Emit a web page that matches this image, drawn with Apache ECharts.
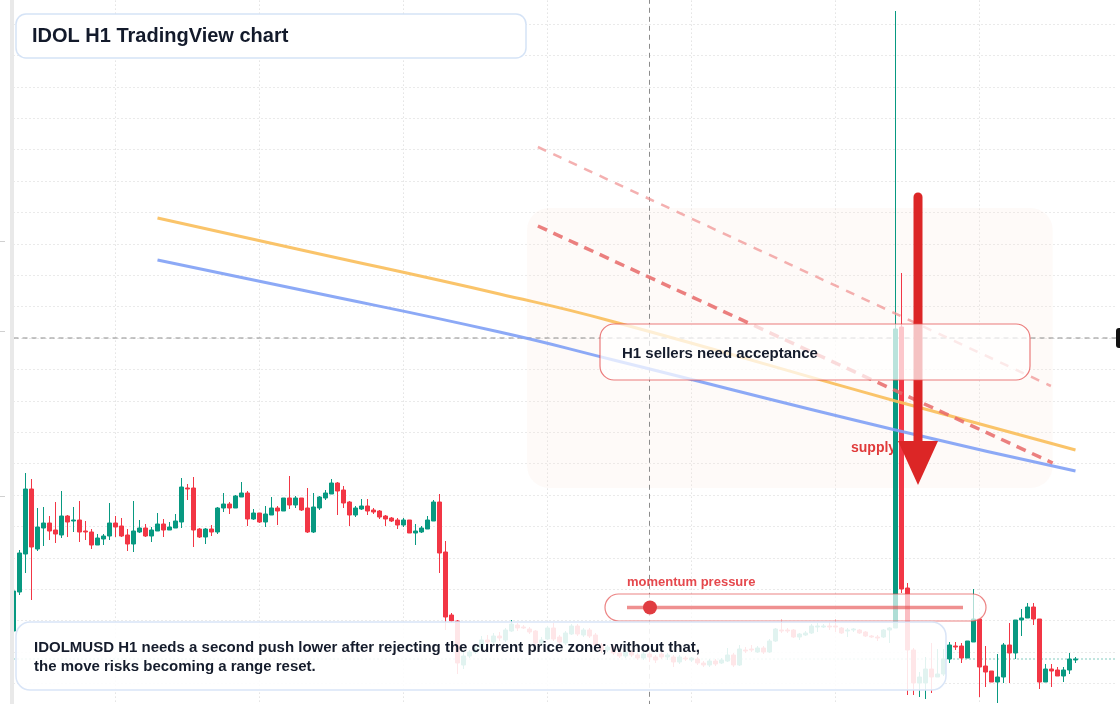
<!DOCTYPE html>
<html>
<head>
<meta charset="utf-8">
<script src="https://cdn.jsdelivr.net/npm/echarts@6/dist/echarts.min.js"></script>
<style>
  html, body { margin: 0; padding: 0; background: #ffffff; overflow: hidden; width: 1120px; height: 704px; }
  /* the plot runs a few pixels past the window edges, like the original screenshot */
  #chart { position: absolute; left: 0; top: -8px; width: 1120px; height: 723px; }
</style>
</head>
<body>
<div id="chart"></div>
<script>
// IDOLMUSD hourly candles
var opens = [0.03664,0.04054,0.04434,0.05084,0.04484,0.04694,0.04744,0.04674,0.04624,0.04814,0.04764,0.04774,0.04664,0.04654,0.04524,0.04584,0.04614,0.04744,0.04714,0.04624,
  0.04534,0.04654,0.04694,0.04614,0.04664,0.04734,0.04674,0.04694,0.04754,0.05094,0.05094,0.04684,0.04604,0.04684,0.04654,0.04894,0.04934,0.04894,0.05004,0.05044,
  0.04784,0.04844,0.04754,0.04824,0.04894,0.04864,0.04994,0.04924,0.04994,0.04894,0.04654,0.04894,0.04994,0.05034,0.05144,0.05074,0.04954,0.04824,0.04884,0.04914,
  0.04874,0.04864,0.04814,0.04794,0.04774,0.04724,0.04774,0.04644,0.04654,0.04684,0.04764,0.04954,0.04454,0.03824,0.03764,0.03324,0.03414,0.03454,0.03494,0.03574,
  0.03554,0.03614,0.03574,0.03664,0.03724,0.03704,0.03684,0.03664,0.03544,0.03584,0.03694,0.03604,0.03544,0.03634,0.03714,0.03624,0.03674,0.03624,0.03524,0.03474,
  0.03504,0.03444,0.03414,0.03454,0.03424,0.03394,0.03434,0.03404,0.03434,0.03404,0.03404,0.03354,0.03394,0.03374,0.03384,0.03344,0.03324,0.03364,0.03344,0.03364,
  0.03424,0.03324,0.03474,0.03484,0.03454,0.03494,0.03454,0.03564,0.03674,0.03674,0.03674,0.03604,0.03624,0.03644,0.03704,0.03704,0.03714,0.03714,0.03694,0.03664,
  0.03674,0.03674,0.03654,0.03614,0.03604,0.03604,0.03674,0.03694,0.06704,0.04094,0.03474,0.03144,0.03144,0.03284,0.03204,0.03234,0.03384,0.03514,0.03514,0.03394,
  0.03554,0.03784,0.03314,0.03264,0.03154,0.03204,0.03524,0.03444,0.03774,0.03794,0.03904,0.03784,0.03154,0.03284,0.03274,0.03214,0.03274,0.03374];
var closes = [0.04064,0.04444,0.05084,0.04504,0.04704,0.04744,0.04664,0.04634,0.04814,0.04754,0.04774,0.04654,0.04654,0.04524,0.04594,0.04614,0.04744,0.04704,0.04614,0.04534,
  0.04664,0.04694,0.04614,0.04674,0.04734,0.04674,0.04704,0.04764,0.05104,0.05084,0.04674,0.04604,0.04684,0.04654,0.04894,0.04934,0.04894,0.05014,0.05044,0.04784,
  0.04844,0.04754,0.04834,0.04894,0.04864,0.04994,0.04924,0.04994,0.04874,0.04654,0.04904,0.05004,0.05044,0.05144,0.05064,0.04944,0.04824,0.04894,0.04914,0.04864,
  0.04854,0.04804,0.04784,0.04764,0.04724,0.04774,0.04644,0.04664,0.04694,0.04774,0.04954,0.04444,0.03804,0.03764,0.03344,0.03414,0.03454,0.03494,0.03574,0.03554,
  0.03614,0.03594,0.03674,0.03734,0.03694,0.03694,0.03654,0.03544,0.03574,0.03694,0.03584,0.03554,0.03644,0.03714,0.03634,0.03674,0.03614,0.03524,0.03474,0.03504,
  0.03444,0.03414,0.03454,0.03424,0.03394,0.03434,0.03404,0.03374,0.03404,0.03424,0.03354,0.03404,0.03384,0.03394,0.03344,0.03324,0.03364,0.03334,0.03374,0.03424,
  0.03324,0.03484,0.03464,0.03474,0.03494,0.03454,0.03564,0.03684,0.03664,0.03664,0.03604,0.03634,0.03644,0.03714,0.03714,0.03714,0.03704,0.03704,0.03644,0.03674,
  0.03684,0.03644,0.03614,0.03604,0.03594,0.03674,0.03694,0.06684,0.04084,0.03474,0.03144,0.03204,0.03284,0.03204,0.03234,0.03384,0.03524,0.03504,0.03394,0.03564,
  0.03784,0.03304,0.03254,0.03154,0.03204,0.03524,0.03444,0.03774,0.03794,0.03904,0.03784,0.03154,0.03284,0.03264,0.03214,0.03274,0.03384,0.03384];
var lows = [0.03654,0.04024,0.04244,0.03974,0.04464,0.04514,0.04574,0.04544,0.04594,0.04604,0.04654,0.04554,0.04574,0.04484,0.04524,0.04524,0.04574,0.04604,0.04604,0.04464,
  0.04454,0.04644,0.04604,0.04554,0.04664,0.04604,0.04674,0.04694,0.04694,0.04974,0.04504,0.04594,0.04534,0.04614,0.04634,0.04854,0.04834,0.04894,0.05004,0.04714,
  0.04774,0.04744,0.04704,0.04824,0.04724,0.04864,0.04884,0.04894,0.04864,0.04644,0.04644,0.04874,0.04974,0.05034,0.04824,0.04894,0.04714,0.04804,0.04874,0.04824,
  0.04834,0.04784,0.04714,0.04754,0.04684,0.04704,0.04644,0.04524,0.04644,0.04684,0.04764,0.04244,0.03674,0.03744,0.03234,0.03284,0.03394,0.03434,0.03474,0.03524,
  0.03534,0.03564,0.03554,0.03654,0.03664,0.03684,0.03634,0.03524,0.03514,0.03574,0.03564,0.03534,0.03524,0.03624,0.03614,0.03604,0.03594,0.03494,0.03444,0.03454,
  0.03424,0.03394,0.03394,0.03404,0.03374,0.03374,0.03354,0.03344,0.03384,0.03374,0.03304,0.03334,0.03364,0.03354,0.03324,0.03304,0.03304,0.03314,0.03334,0.03354,
  0.03304,0.03314,0.03444,0.03454,0.03444,0.03434,0.03444,0.03554,0.03644,0.03644,0.03594,0.03574,0.03614,0.03634,0.03654,0.03694,0.03674,0.03654,0.03634,0.03604,
  0.03654,0.03634,0.03604,0.03594,0.03564,0.03594,0.03544,0.03694,0.04044,0.03024,0.03024,0.03004,0.02984,0.03044,0.03204,0.03214,0.03344,0.03474,0.03344,0.03394,
  0.03554,0.03004,0.03104,0.03154,0.02944,0.03144,0.03144,0.03384,0.03614,0.03794,0.03724,0.03084,0.03154,0.03104,0.03214,0.03154,0.03234,0.03344];
var highs = [0.04084,0.04474,0.05244,0.05184,0.04894,0.04904,0.04814,0.04954,0.05064,0.04824,0.04904,0.04964,0.04764,0.04684,0.04634,0.04634,0.04944,0.04814,0.04794,0.04684,
  0.04964,0.04774,0.04734,0.04704,0.04844,0.04784,0.04754,0.04834,0.05194,0.05134,0.05204,0.04694,0.04694,0.04724,0.04904,0.05044,0.04954,0.05024,0.05154,0.05064,
  0.04884,0.04844,0.04914,0.05004,0.04914,0.04994,0.05214,0.05014,0.04994,0.05094,0.05044,0.05014,0.05074,0.05184,0.05154,0.05114,0.04964,0.04914,0.04984,0.04984,
  0.04894,0.04874,0.04824,0.04804,0.04794,0.04794,0.04774,0.04734,0.04714,0.04814,0.04974,0.05034,0.04564,0.03844,0.03774,0.03474,0.03474,0.03524,0.03614,0.03624,
  0.03644,0.03654,0.03694,0.03774,0.03744,0.03724,0.03704,0.03674,0.03604,0.03714,0.03744,0.03624,0.03664,0.03734,0.03734,0.03694,0.03694,0.03644,0.03544,0.03524,
  0.03524,0.03464,0.03474,0.03474,0.03444,0.03454,0.03454,0.03424,0.03454,0.03444,0.03424,0.03424,0.03414,0.03404,0.03404,0.03364,0.03384,0.03384,0.03394,0.03494,
  0.03444,0.03524,0.03504,0.03524,0.03514,0.03514,0.03584,0.03694,0.03784,0.03694,0.03684,0.03644,0.03664,0.03734,0.03744,0.03734,0.03754,0.03784,0.03704,0.03694,
  0.03694,0.03684,0.03664,0.03624,0.03624,0.03684,0.03704,0.09864,0.07244,0.04144,0.03494,0.03254,0.03404,0.03544,0.03484,0.03484,0.03554,0.03554,0.03544,0.03564,
  0.04084,0.03784,0.03514,0.03264,0.03434,0.03544,0.03744,0.03774,0.03884,0.03944,0.03944,0.03784,0.03334,0.03334,0.03304,0.03304,0.03444,0.03404];

// moving averages, [bar index, price]
var emaFast = [[24, 0.07794], [48, 0.07474], [81, 0.07034], [100, 0.06757], [147, 0.05964], [177, 0.05474]];
var emaSlow = [[24, 0.07374], [48, 0.07074], [81, 0.06654], [100, 0.06374], [147, 0.05674], [177, 0.05264]];
// descending trend lines
var trendMain = [[87.4, 0.07714], [173.2, 0.05344]];
var trendUpper = [[87.4, 0.08504], [172.9, 0.06114]];
// supply zone [x0, yTop, x1, yBottom]
var supplyZone = [[85.6, 0.07894, 173.2, 0.05094]];
var crossBar = 106;
var crossPrice = 0.06594;
var lastPrice = 0.03384;
var priceMin = 0.02826, priceMax = 0.10048, priceStep = 0.00314;
var barCount = 185;

var times = [];
for (var i = 0; i < barCount; i++) {
  var d = new Date(Date.UTC(2025, 5, 1, 0) + i * 3600000);
  times.push(d.toISOString().slice(5, 13).replace("T", " ") + ":00");
}
var candles = [];
for (var k = 0; k < opens.length; k++) {
  candles.push([opens[k], closes[k], lows[k], highs[k]]);
}

var FONT = '"Liberation Sans", Arial, sans-serif';
var OY = 8; // container starts 8px above the window
var chart = echarts.init(document.getElementById("chart"));

function guide(data, color, type, width) {
  return {
    type: "line",
    xAxisIndex: 1,
    z: 1,
    silent: true,
    showSymbol: false,
    data: data,
    lineStyle: { color: color, type: type, width: width },
  };
}

chart.setOption({
  animation: false,
  backgroundColor: "#ffffff",
  grid: { left: 13.5, right: 2.5, top: 0.6, bottom: 0.2 },
  xAxis: [
    {
      type: "category",
      data: times,
      boundaryGap: false,
      axisLine: { show: false },
      axisTick: { show: false },
      axisLabel: { show: false },
      splitLine: {
        show: true,
        interval: function (idx) { return idx >= 17 && (idx - 17) % 24 === 0; },
        lineStyle: { color: "#d4d4d4", type: [1, 3], width: 1 },
      },
    },
    { type: "value", min: 0, max: barCount - 1, show: false },
  ],
  yAxis: {
    type: "value",
    position: "right",
    min: priceMin,
    max: priceMax,
    interval: priceStep,
    axisLine: { show: false },
    axisTick: { show: false },
    axisLabel: { show: false },
    splitLine: { lineStyle: { color: "#d4d4d4", type: [1, 3], width: 1 } },
  },
  series: [
    {
      // supply zone
      type: "custom",
      xAxisIndex: 1,
      z: 0,
      silent: true,
      data: supplyZone,
      renderItem: function (params, api) {
        var a = api.coord([api.value(0), api.value(1)]);
        var b = api.coord([api.value(2), api.value(3)]);
        return {
          type: "rect",
          shape: { x: a[0], y: a[1], width: b[0] - a[0], height: b[1] - a[1], r: 22 },
          style: { fill: "rgba(250,232,218,0.2)" },
        };
      },
    },
    // crosshair + last price
    guide([[crossBar, priceMin], [crossBar, priceMax]], "#8c8c8c", [5, 4], 1),
    guide([[0, crossPrice], [barCount - 1, crossPrice]], "#8c8c8c", [5, 4], 1),
    guide([[0, lastPrice], [barCount - 1, lastPrice]], "#089981", [1, 3], 1.2),
    {
      name: "IDOLMUSD",
      type: "candlestick",
      z: 2,
      barWidth: 4.8,
      data: candles,
      itemStyle: {
        color: "#089981",
        color0: "#f23645",
        borderColor: "#089981",
        borderColor0: "#f23645",
        borderWidth: 1,
      },
    },
    {
      name: "EMA fast",
      type: "line",
      xAxisIndex: 1,
      z: 3,
      smooth: true,
      showSymbol: false,
      data: emaFast,
      lineStyle: { color: "rgba(249,190,90,0.9)", width: 3 },
    },
    {
      name: "EMA slow",
      type: "line",
      xAxisIndex: 1,
      z: 3,
      smooth: true,
      showSymbol: false,
      data: emaSlow,
      lineStyle: { color: "rgba(128,160,245,0.9)", width: 3 },
    },
    {
      name: "trend",
      type: "line",
      xAxisIndex: 1,
      z: 3,
      showSymbol: false,
      data: trendMain,
      lineStyle: { color: "rgba(232,104,104,0.85)", width: 3.5, type: [10, 7] },
    },
    {
      name: "trend upper",
      type: "line",
      xAxisIndex: 1,
      z: 3,
      showSymbol: false,
      data: trendUpper,
      lineStyle: { color: "rgba(240,150,150,0.75)", width: 2.5, type: [9, 8] },
    },
  ],
  graphic: [
    {
      type: "group",
      y: OY,
      children: [
        // left strip and the clipped axis ticks beside it
        { type: "rect", z: 20, shape: { x: 10, y: 0, width: 4, height: 704 }, style: { fill: "#e9e9e9" } },
        { type: "line", z: 20, shape: { x1: 0, y1: 241.5, x2: 5, y2: 241.5 }, style: { stroke: "#d0d0d0", lineWidth: 1 } },
        { type: "line", z: 20, shape: { x1: 0, y1: 331.5, x2: 5, y2: 331.5 }, style: { stroke: "#d0d0d0", lineWidth: 1 } },
        { type: "line", z: 20, shape: { x1: 0, y1: 496.5, x2: 5, y2: 496.5 }, style: { stroke: "#d0d0d0", lineWidth: 1 } },
        // supply zone label (under the candles)
        {
          type: "text", z: 1, x: 851, y: 448,
          style: { text: "supply zone", font: "bold 14px " + FONT, fill: "#e03a3a", verticalAlign: "middle" },
        },
        // big down arrow
        {
          type: "line", z: 8,
          shape: { x1: 918, y1: 197, x2: 918, y2: 446 },
          style: { stroke: "#dc2626", lineWidth: 9, lineCap: "round" },
        },
        {
          type: "polygon", z: 8,
          shape: { points: [[898, 441], [938, 441], [918, 485]] },
          style: { fill: "#dc2626" },
        },
        // title
        {
          type: "rect", z: 10,
          shape: { x: 16, y: 14, width: 510, height: 44, r: 10 },
          style: { fill: "#ffffff", stroke: "#d5e3f6", lineWidth: 1.5 },
        },
        {
          type: "text", z: 11, x: 32, y: 36,
          style: { text: "IDOL H1 TradingView chart", font: "bold 20px " + FONT, fill: "#131a2b", verticalAlign: "middle" },
        },
        // middle callout
        {
          type: "rect", z: 10,
          shape: { x: 600, y: 324, width: 430, height: 56, r: 14 },
          style: { fill: "rgba(255,255,255,0.72)", stroke: "rgba(228,80,80,0.75)", lineWidth: 1.2 },
        },
        {
          type: "text", z: 11, x: 622, y: 354,
          style: { text: "H1 sellers need acceptance", font: "bold 15px " + FONT, fill: "#151c2c", verticalAlign: "middle" },
        },
        // momentum pill
        {
          type: "text", z: 11, x: 627, y: 582,
          style: { text: "momentum pressure", font: "bold 13px " + FONT, fill: "#e5484d", verticalAlign: "middle" },
        },
        {
          type: "rect", z: 10,
          shape: { x: 605, y: 594, width: 381, height: 27, r: 13.5 },
          style: { fill: "rgba(255,255,255,0.68)", stroke: "rgba(228,80,80,0.7)", lineWidth: 1.2 },
        },
        {
          type: "line", z: 11,
          shape: { x1: 627, y1: 607.5, x2: 963, y2: 607.5 },
          style: { stroke: "rgba(229,70,70,0.6)", lineWidth: 3.5 },
        },
        {
          type: "circle", z: 12,
          shape: { cx: 650, cy: 607.5, r: 7 },
          style: { fill: "#e03c41" },
        },
        // bottom note
        {
          type: "rect", z: 10,
          shape: { x: 16, y: 622, width: 930, height: 68, r: 14 },
          style: { fill: "rgba(255,255,255,0.88)", stroke: "#d9e5f7", lineWidth: 1.5 },
        },
        {
          type: "text", z: 11, x: 34, y: 648,
          style: {
            text: "IDOLMUSD H1 needs a second push lower after rejecting the current price zone; without that,",
            font: "bold 15px " + FONT, fill: "#151c2c", verticalAlign: "middle",
          },
        },
        {
          type: "text", z: 11, x: 34, y: 667,
          style: { text: "the move risks becoming a range reset.", font: "bold 15px " + FONT, fill: "#151c2c", verticalAlign: "middle" },
        },
        // price tag at the right edge (cut off)
        {
          type: "rect", z: 12,
          shape: { x: 1116, y: 328, width: 40, height: 20, r: 3 },
          style: { fill: "#111111" },
        },
      ],
    },
  ],
});
</script>
</body>
</html>
